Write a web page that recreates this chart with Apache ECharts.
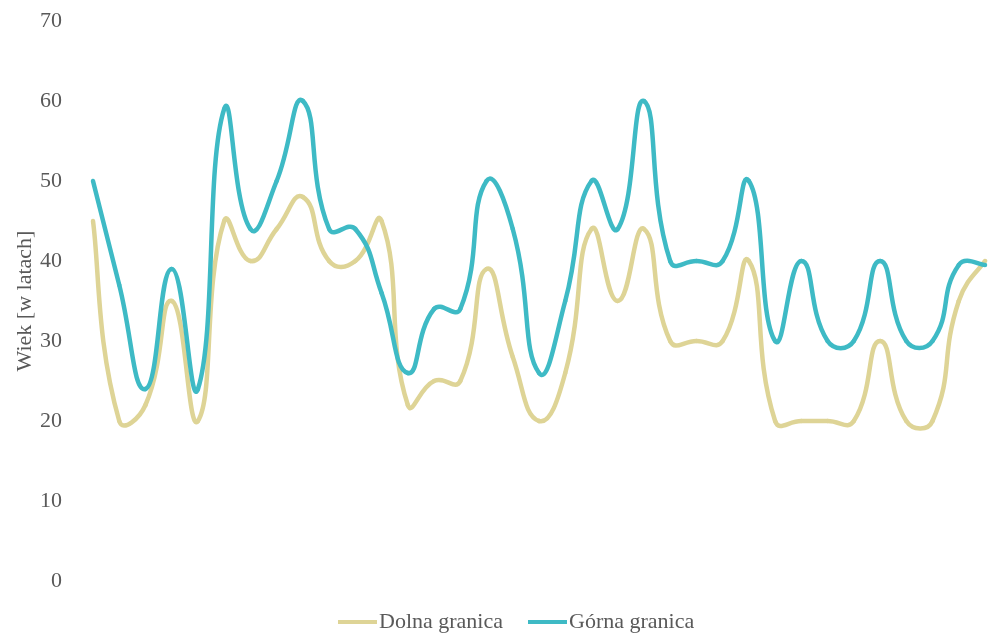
<!DOCTYPE html>
<html>
<head>
<meta charset="utf-8">
<script src="https://cdn.jsdelivr.net/npm/echarts@6/dist/echarts.min.js"></script>
<style>
  html, body { margin: 0; padding: 0; background: #ffffff; }
  #chart { width: 988px; height: 633px; }
</style>
</head>
<body>
<div id="chart"></div>
<script>
// Age ranges (lower / upper bound) for each of the 35 groups
const categories = [
  '1', '2', '3', '4', '5', '6', '7', '8', '9', '10',
  '11', '12', '13', '14', '15', '16', '17', '18', '19', '20',
  '21', '22', '23', '24', '25', '26', '27', '28', '29', '30',
  '31', '32', '33', '34', '35'
];
const lowerBound = [
  45, 20, 22, 35, 20, 45, 40, 44, 48, 40,
  40, 45, 22, 25, 25, 39, 28, 20, 26, 44,
  35, 44, 30, 30, 30, 40, 20, 20, 20, 20,
  30, 20, 20, 35, 40
];
const upperBound = [
  50, 37, 24, 39, 24, 59, 44, 50, 60, 44,
  44, 36, 26, 34, 34, 50, 44, 26, 35, 50,
  44, 60, 40, 40, 40, 50, 30, 40, 30, 30,
  40, 30, 30, 39.5, 39.5
];
const yTicks = { min: 0, max: 70, interval: 10 };

const textColor = '#595959';
const fontFamily = '"Liberation Serif", "Times New Roman", serif';
const fontSize = 22;
const lowerColor = '#DED496';
const upperColor = '#3EBAC5';
const lineWidth = 4.5;
const SMOOTH = 0.5;

// Smoothed curve through every data point (control points scaled by the
// relative lengths of the neighbouring segments, no clamping).
function curveRenderer(values, color) {
  return function (params, api) {
    if (params.dataIndex !== 0) return null;
    const pts = values.map(function (v, i) { return api.coord([i, v]); });
    const n = pts.length;
    const cpIn = [], cpOut = [];
    for (let i = 0; i < n; i++) {
      const p = pts[i];
      const prev = pts[Math.max(i - 1, 0)];
      const next = pts[Math.min(i + 1, n - 1)];
      const vx = next[0] - prev[0], vy = next[1] - prev[1];
      const lp = Math.hypot(p[0] - prev[0], p[1] - prev[1]);
      const ln = Math.hypot(next[0] - p[0], next[1] - p[1]);
      const r = (lp + ln) > 0 ? ln / (lp + ln) : 0.5;
      let kIn = SMOOTH * (1 - r), kOut = SMOOTH * r;
      if (i === 0) { kOut = SMOOTH * 0.5; }
      if (i === n - 1) { kIn = SMOOTH * 0.5; }
      cpIn.push([p[0] - vx * kIn, p[1] - vy * kIn]);
      cpOut.push([p[0] + vx * kOut, p[1] + vy * kOut]);
    }
    const children = [];
    for (let i = 0; i < n - 1; i++) {
      children.push({
        type: 'bezierCurve',
        shape: {
          x1: pts[i][0], y1: pts[i][1],
          x2: pts[i + 1][0], y2: pts[i + 1][1],
          cpx1: cpOut[i][0], cpy1: cpOut[i][1],
          cpx2: cpIn[i + 1][0], cpy2: cpIn[i + 1][1]
        },
        style: { stroke: color, lineWidth: lineWidth, fill: null, lineCap: 'round' }
      });
    }
    return { type: 'group', children: children };
  };
}

function curveSeries(name, values, color) {
  return {
    name: name,
    type: 'custom',
    coordinateSystem: 'cartesian2d',
    data: values.map(function (v, i) { return [i, v]; }),
    encode: { x: 0, y: 1 },
    clip: false,
    itemStyle: { color: color },
    renderItem: curveRenderer(values, color)
  };
}

const chart = echarts.init(document.getElementById('chart'), null, { renderer: 'canvas' });

chart.setOption({
  animation: false,
  backgroundColor: '#ffffff',
  textStyle: { fontFamily: fontFamily, color: textColor },
  grid: { left: 93, right: 3, top: 21, bottom: 52, containLabel: false },
  legend: {
    data: ['Dolna granica', 'Górna granica'],
    left: 333,
    top: 606,
    icon: 'rect',
    itemWidth: 39,
    itemHeight: 4,
    itemGap: 25,
    textStyle: { fontFamily: fontFamily, fontSize: fontSize, color: textColor, padding: [0, 0, 0, -3] }
  },
  xAxis: {
    type: 'category',
    data: categories,
    boundaryGap: false,
    axisLine: { show: false },
    axisTick: { show: false },
    axisLabel: { show: false },
    splitLine: { show: false }
  },
  yAxis: {
    type: 'value',
    min: yTicks.min,
    max: yTicks.max,
    interval: yTicks.interval,
    name: 'Wiek [w latach]',
    nameLocation: 'middle',
    nameGap: 57,
    nameMoveOverlap: false,
    nameTextStyle: { fontFamily: fontFamily, fontSize: fontSize, color: textColor },
    axisLine: { show: false },
    axisTick: { show: false },
    splitLine: { show: false },
    axisLabel: { fontFamily: fontFamily, fontSize: fontSize, color: textColor, margin: 31 }
  },
  series: [
    curveSeries('Dolna granica', lowerBound, lowerColor),
    curveSeries('Górna granica', upperBound, upperColor)
  ]
});
</script>
</body>
</html>
